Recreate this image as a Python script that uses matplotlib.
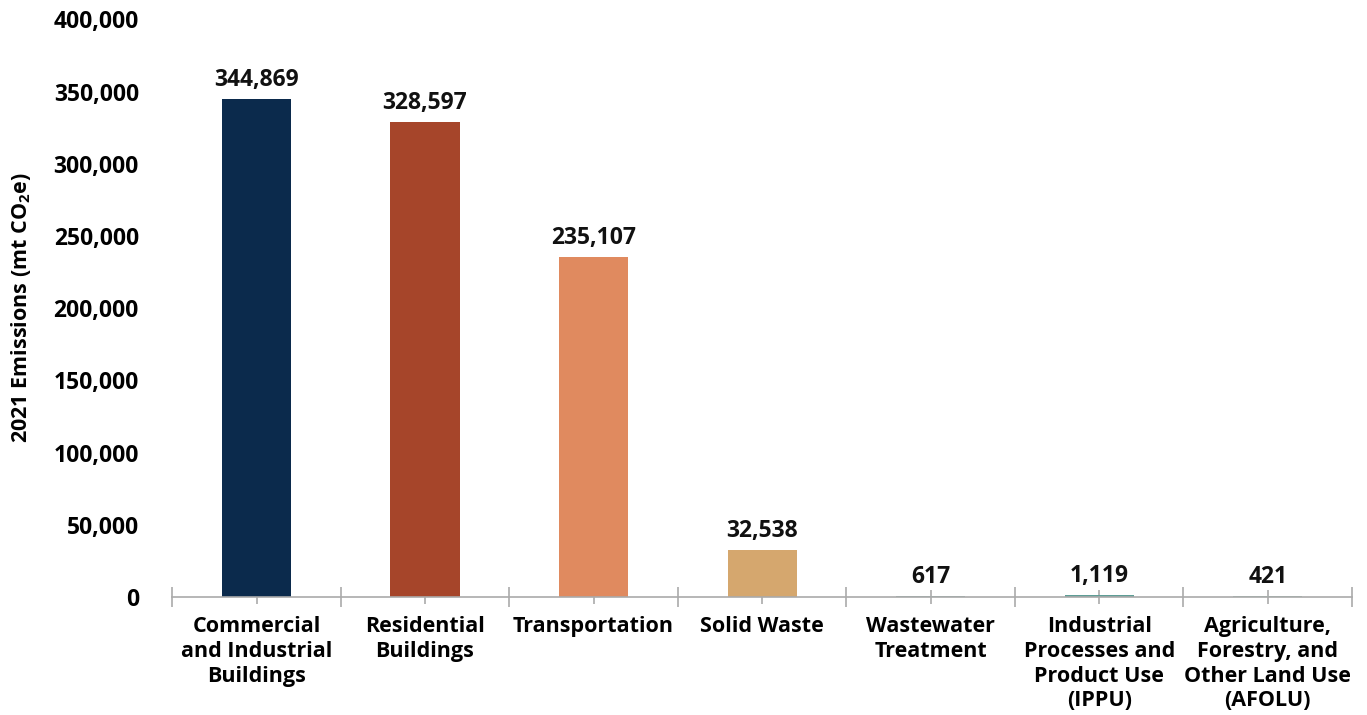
import matplotlib
matplotlib.use("Agg")
import matplotlib.pyplot as plt
import numpy as np

# data
categories = [
    "Commercial\nand Industrial\nBuildings",
    "Residential\nBuildings",
    "Transportation",
    "Solid Waste",
    "Wastewater\nTreatment",
    "Industrial\nProcesses and\nProduct Use\n(IPPU)",
    "Agriculture,\nForestry, and\nOther Land Use\n(AFOLU)",
]
emissions = [344869, 328597, 235107, 32538, 617, 1119, 421]
colors = ["#0B2A4C", "#A6452A", "#E08A5F", "#D5A76E", "#8FB5AC", "#5E9E96", "#9DBDB5"]
yticks = [0, 50000, 100000, 150000, 200000, 250000, 300000, 350000, 400000]

plt.rcParams['font.family'] = ['Open Sans', 'DejaVu Sans']
plt.rcParams['font.weight'] = 'bold'

fig = plt.figure(figsize=(13.67, 7.15), dpi=100)
ax = fig.add_axes([0.126, 0.165, 0.863, 0.808])

x = np.arange(len(categories))
ax.bar(x, emissions, width=0.41, color=colors, zorder=2)

for xi, v in zip(x, emissions):
    ax.text(xi, v + 5000, f"{v:,}", ha='center', va='bottom', fontsize=16.5,
            fontweight='bold', color='#111111')

ax.set_xlim(-0.5, len(categories) - 0.5)
ax.set_ylim(0, 400000)
ax.set_yticks(yticks)
ax.set_yticklabels([f"{t:,}" for t in yticks], fontsize=16.5, fontweight='bold')
ax.tick_params(axis='y', length=0, pad=24)

# boundary ticks as major, center ticks as minor
ax.set_xticks(np.arange(len(categories) + 1) - 0.5)
ax.set_xticklabels([])
ax.tick_params(axis='x', which='major', direction='inout', length=14, color='#AAAAAA', width=1.2)
ax.set_xticks(x, minor=True)
ax.set_xticklabels(categories, minor=True, fontsize=15.5, fontweight='bold', linespacing=1.22)
ax.tick_params(axis='x', which='minor', direction='inout', length=10, color='#AAAAAA',
               width=1.2, pad=9)

for s in ['top', 'right', 'left']:
    ax.spines[s].set_visible(False)
ax.spines['bottom'].set_color('#AAAAAA')
ax.spines['bottom'].set_linewidth(1.2)

ax.set_ylabel(r"2021 Emissions (mt CO$_\mathregular{2}$e)", fontsize=15.5, fontweight='bold')
ax.yaxis.set_label_coords(-0.118, 0.5)

fig.savefig("out.png", dpi=100)
